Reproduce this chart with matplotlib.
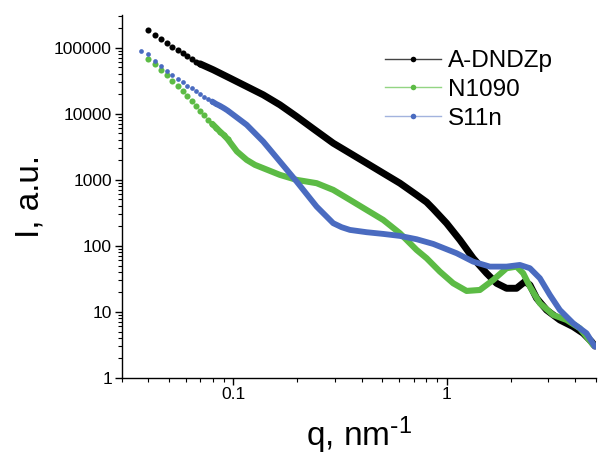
import numpy as np
import matplotlib
matplotlib.use('Agg')
import matplotlib.pyplot as plt
from matplotlib.lines import Line2D

plt.rcParams['font.family'] = ['Liberation Sans', 'DejaVu Sans']
plt.rcParams['mathtext.default'] = 'regular'

# --- data ------------------------------------------

q_black = [0.03996, 0.04296, 0.04584, 0.0489, 0.05178, 0.05489, 0.05793,
           0.06087, 0.06384, 0.06686, 0.06982, 0.0806, 0.09649, 0.1156,
           0.1382, 0.1655, 0.1982, 0.237, 0.2941, 0.3523, 0.4218, 0.5046,
           0.6041, 0.7233, 0.806, 0.8654, 1.0, 1.154, 1.332, 1.539, 1.715,
           1.91, 2.128, 2.328, 2.457, 2.641, 2.942, 3.395, 3.92, 4.366,
           4.78, 4.955]
I_black = [181000, 155800, 134100, 116600, 101400, 90100, 82300,
           74850, 67430, 61370, 56620, 45930, 34390, 25660,
           19200, 13550, 9010, 5900, 3561, 2512, 1772, 1250,
           882, 586, 455, 360, 218, 122, 64.4, 38.2, 26.9,
           22.6, 22.6, 28.5, 25.4, 16.0, 10.6, 7.49, 5.93, 4.71,
           3.51, 3.02]

q_green = [0.03996, 0.04296, 0.04584, 0.0489, 0.05178, 0.05489, 0.05793,
           0.06087, 0.06384, 0.06686, 0.06982, 0.0729, 0.07634, 0.0797,
           0.08294, 0.0866, 0.09041, 0.09414, 0.104, 0.1156, 0.1264,
           0.1382, 0.1655, 0.1982, 0.2459, 0.2941, 0.3523, 0.4218, 0.5046,
           0.6041, 0.7233, 0.806, 0.9302, 1.074, 1.241, 1.432, 1.654, 1.91,
           2.128, 2.285, 2.457, 2.736, 3.159, 3.65, 4.213, 4.864]
I_green = [66720, 56040, 45930, 38170, 31290, 26290, 21850,
           18350, 15580, 13080, 11100, 9458, 8025, 6981,
           6137, 5338, 4707, 4094, 2670, 1988, 1670,
           1488, 1178, 990, 882, 698, 493, 347, 245,
           154, 86.1, 64.4, 40.4, 26.9, 20.6, 21.3, 30.2, 45.5,
           48.1, 38.2, 23.9, 13.4, 8.91, 7.49, 5.60, 3.13]

q_blue = [0.03693, 0.03996, 0.04296, 0.04584, 0.0489, 0.05178, 0.05489,
          0.05793, 0.06087, 0.06384, 0.06686, 0.06982, 0.0729, 0.07634,
          0.0797, 0.08294, 0.0866, 0.09041, 0.09414, 0.1156, 0.1382,
          0.1655, 0.1982, 0.2459, 0.2941, 0.3221, 0.3523, 0.4218, 0.5046,
          0.6041, 0.7233, 0.8654, 1.114, 1.332, 1.596, 1.91, 2.205, 2.457,
          2.736, 3.049, 3.395, 3.92, 4.529, 4.955]
I_blue = [89130, 79430, 63530, 53370, 44360, 38590, 33560,
          29920, 26570, 24250, 22080, 19890, 18090, 16530,
          15200, 14030, 13080, 12070, 11100, 6743, 3765,
          1874, 933, 390, 218.5, 190, 172.9, 159.6, 150.4,
          140.3, 125.0, 106.1, 76.7, 57.2, 48.1, 48.1, 51.0, 45.5,
          32.1, 17.9, 10.6, 6.67, 4.71, 2.95]

labels = ['A-DNDZp', 'N1090', 'S11n']

# --- plotting ---------------------

fig = plt.figure(figsize = (6.08, 4.55), dpi = 100)
ax = fig.add_axes([0.2002, 0.1699, 0.7796, 0.797])

# colour, legend line colour, marker size, thick width, last dot, thick start
series = [
	(q_black, I_black, '#000000', '#444444', 4.4, 5.0, 0.07, 0.069),
	(q_green, I_green, '#5cbb45', '#93d583', 4.4, 4.4, 0.095, 0.079),
	(q_blue, I_blue, '#4a6bc0', '#a3b3de', 3.4, 4.2, 0.095, 0.079),
]

handles = []

for (q, I, c, lc, ms, lw, dmax, cut), lab in zip(series, labels):

	q = np.array(q)
	I = np.array(I)

	# low q: separate dots
	d = q <= dmax
	ax.plot(q[d], I[d], color = c, lw = 0,
		marker = 'o', ms = ms, mfc = c, mec = c, mew = 0, zorder = 3)

	# high q: the dots merge into a thick line
	m = q >= cut
	ax.plot(q[m], I[m], color = c, lw = lw,
		solid_capstyle = 'round', solid_joinstyle = 'round', zorder = 2)

	handles.append(Line2D([], [], color = lc, lw = 1.0,
		marker = 'o', ms = 4, mfc = c, mec = c, mew = 0, label = lab))

ax.set_xscale('log')
ax.set_yscale('log')
ax.set_xlim(0.03, 5)
ax.set_ylim(1, 3.1e5)

ax.spines['top'].set_visible(False)
ax.spines['right'].set_visible(False)
ax.spines['left'].set_linewidth(1.0)
ax.spines['bottom'].set_linewidth(1.0)

ax.xaxis.set_major_formatter(matplotlib.ticker.FuncFormatter(
	lambda v, p: '{:g}'.format(v)))
ax.yaxis.set_major_formatter(matplotlib.ticker.FuncFormatter(
	lambda v, p: '{:d}'.format(int(round(v)))))
ax.xaxis.set_minor_formatter(matplotlib.ticker.NullFormatter())

ax.tick_params(which = 'major', direction = 'out', length = 5, width = 1.0,
	labelsize = 12.5, pad = 2)
ax.tick_params(which = 'minor', direction = 'out', length = 3, width = 0.8)

ax.set_xlabel(r'q, nm$^{\text{-}1}$', fontsize = 24, labelpad = 9)
ax.set_ylabel('I, a.u.', fontsize = 24, labelpad = 6)

fig.legend(handles = handles, loc = 'upper left',
	bbox_to_anchor = (0.633, 0.89), bbox_transform = fig.transFigure,
	frameon = False, fontsize = 17.5, handlelength = 2.3,
	handletextpad = 0.3, labelspacing = 0.28, borderpad = 0,
	borderaxespad = 0)

fig.savefig('out.png', dpi = 100)
plt.close()
